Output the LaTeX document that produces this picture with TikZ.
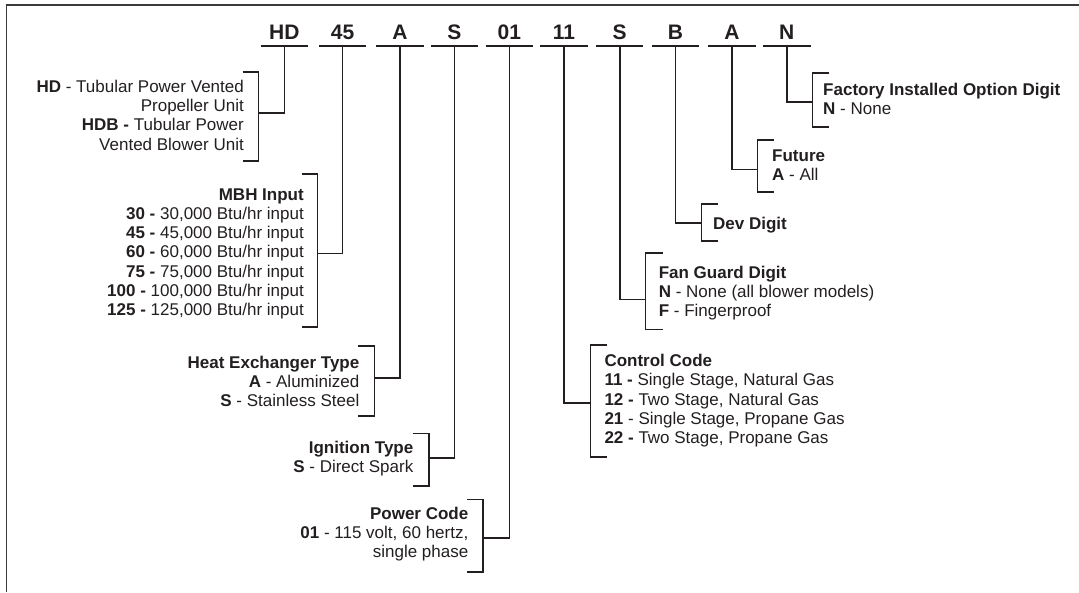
\documentclass[tikz,border=0pt]{standalone}
\usepackage{fontspec}
\setmainfont{Liberation Sans}
\usepackage{array}
\definecolor{ink}{HTML}{231F20}
\definecolor{framec}{HTML}{3A3A3A}
\newcommand{\rlines}[1]{\begin{tabular}[t]{@{}r@{}}#1\end{tabular}}
\newcommand{\llines}[1]{\begin{tabular}[t]{@{}l@{}}#1\end{tabular}}
\begin{document}
\begin{tikzpicture}[x=1pt,y=-1pt,
  codebox/.style={font=\fontsize{21}{24}\selectfont\bfseries, text=ink, anchor=base,
    inner sep=0pt, minimum width=47pt, text depth=7pt},
  descL/.style={anchor=base east, inner sep=0pt, text=ink, font=\fontsize{17}{19.25}\selectfont},
  descR/.style={anchor=base west, inner sep=0pt, text=ink, font=\fontsize{17}{19.25}\selectfont},
  bracket/.style={draw=ink, line width=1.6pt},
  stem/.style={draw=ink, line width=1.6pt},
  uline/.style={draw=ink, line width=1.8pt},
  frameline/.style={draw=framec, line width=1.6pt}]
\useasboundingbox (0,0) rectangle (1079,592);
% frame (only top and left edges visible)
\draw[frameline] (6.5,592) -- (6.5,5) -- (1079,5);

% code characters
\node[codebox] (c1) at (284.4,39) {HD};
\node[codebox] (c2) at (342.6,39) {45};
\node[codebox] (c3) at (400,39) {A};
\node[codebox] (c4) at (454.4,39) {S};
\node[codebox] (c5) at (509.3,39) {01};
\node[codebox] (c6) at (564,39) {11};
\node[codebox] (c7) at (619.7,39) {S};
\node[codebox] (c8) at (675.5,39) {B};
\node[codebox] (c9) at (732,39) {A};
\node[codebox] (c10) at (786.8,39) {N};
\foreach \i in {1,...,10} {\draw[uline] (c\i.south west) -- (c\i.south east);}

% descriptions, left side
\node[descL] (d1) at (244,92.3) {\rlines{\textbf{HD} - Tubular Power Vented\\Propeller Unit\\\textbf{HDB -} Tubular Power\\Vented Blower Unit}};
\node[descL] (d2) at (304,200) {\rlines{\textbf{MBH Input}\\\textbf{30 -} 30,000 Btu/hr input\\\textbf{45 -} 45,000 Btu/hr input\\\textbf{60 -} 60,000 Btu/hr input\\\textbf{75 -} 75,000 Btu/hr input\\\textbf{100 -} 100,000 Btu/hr input\\\textbf{125 -} 125,000 Btu/hr input}};
\node[descL] (d3) at (359.5,368.3) {\rlines{\textbf{Heat Exchanger Type}\\\textbf{A} - Aluminized\\\textbf{S} - Stainless Steel}};
\node[descL] (d4) at (413.5,453.3) {\rlines{\textbf{Ignition Type}\\\textbf{S} - Direct Spark}};
\node[descL] (d5) at (468.5,519.3) {\rlines{\textbf{Power Code}\\\textbf{01} - 115 volt, 60 hertz,\\single phase}};

% descriptions, right side
\node[descR] (d6) at (604.3,366.7) {\llines{\textbf{Control Code}\\\textbf{11 -} Single Stage, Natural Gas\\\textbf{12 -} Two Stage, Natural Gas\\\textbf{21} - Single Stage, Propane Gas\\\textbf{22 -} Two Stage, Propane Gas}};
\node[descR] (d7) at (658.6,278.3) {\llines{\textbf{Fan Guard Digit}\\\textbf{N} - None (all blower models)\\\textbf{F} - Fingerproof}};
\node[descR] (d8) at (713,229.3) {\textbf{Dev Digit}};
\node[descR] (d9) at (772,161.7) {\llines{\textbf{Future}\\\textbf{A} - All}};
\node[descR] (d10) at (823,95) {\llines{\textbf{Factory Installed Option Digit}\\\textbf{N} - None}};

% bracket joints (vertical x, mid y)
\coordinate (m1) at (258.3,113);
\coordinate (m2) at (317.5,253.3);
\coordinate (m3) at (374.3,377.7);
\coordinate (m4) at (428.7,457.7);
\coordinate (m5) at (483.1,537.7);
\coordinate (m6) at (590.5,402.7);
\coordinate (m7) at (645.5,299.3);
\coordinate (m8) at (701.6,222.7);
\coordinate (m9) at (757.3,169.3);
\coordinate (m10) at (812.6,101.7);

% brackets, left side
\draw[bracket] (242.5,72) -- (258.3,72) -- (258.3,161) -- (242.5,161);
\draw[bracket] (301.5,174) -- (317.5,174) -- (317.5,326.7) -- (301.5,326.7);
\draw[bracket] (358,345.7) -- (374.3,345.7) -- (374.3,416) -- (358,416);
\draw[bracket] (412.5,433.3) -- (428.7,433.3) -- (428.7,486) -- (412.5,486);
\draw[bracket] (467.3,499.3) -- (483.1,499.3) -- (483.1,571.7) -- (467.3,571.7);
% brackets, right side
\draw[bracket] (607,345) -- (590.5,345) -- (590.5,456.7) -- (607,456.7);
\draw[bracket] (662.7,252.7) -- (645.5,252.7) -- (645.5,329.3) -- (662.7,329.3);
\draw[bracket] (718,204) -- (701.6,204) -- (701.6,241) -- (718,241);
\draw[bracket] (773.8,140) -- (757.3,140) -- (757.3,191.7) -- (773.8,191.7);
\draw[bracket] (829.4,72.7) -- (812.6,72.7) -- (812.6,126.7) -- (829.4,126.7);

% connectors from code to bracket
\foreach \i in {1,...,10} {\draw[stem] (c\i.south) |- (m\i);}
\end{tikzpicture}
\end{document}
